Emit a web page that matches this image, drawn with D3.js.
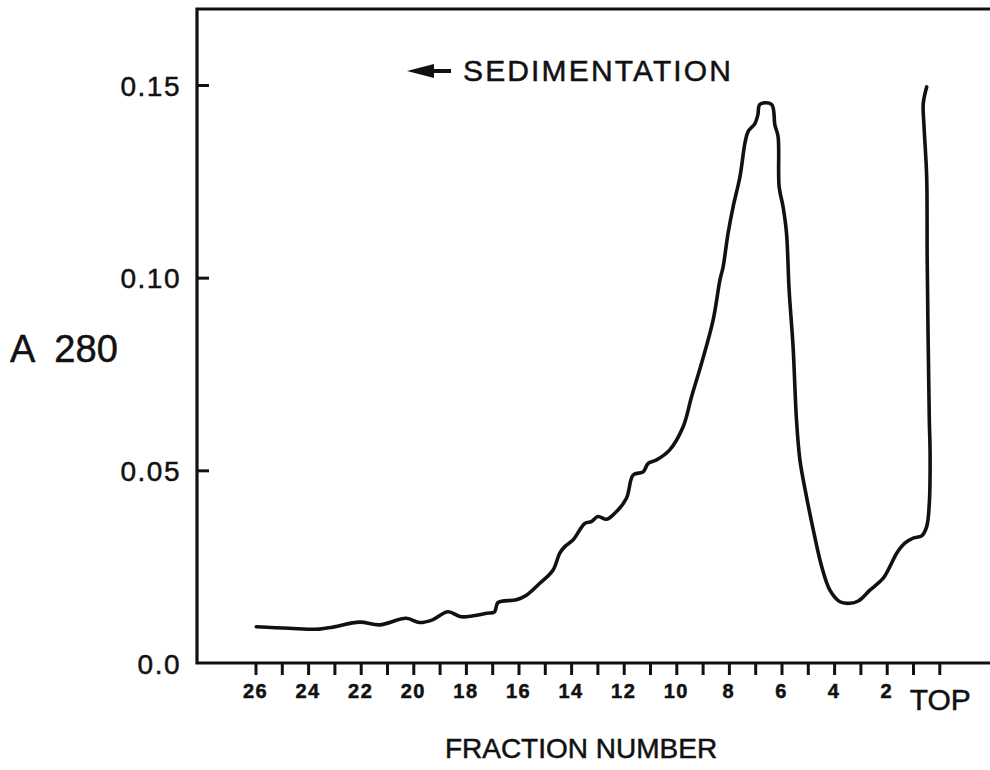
<!DOCTYPE html>
<html>
<head>
<meta charset="utf-8">
<script src="https://cdn.jsdelivr.net/npm/d3@7"></script>
<style>
  body { margin: 0; background: #fff; }
  svg { display: block; font-family: "Liberation Sans", Arial, Helvetica, sans-serif; }
  svg text { fill: #111; stroke: #111; stroke-width: 0.5px; }
  .axis path.domain { display: none; }
  .axis line { stroke: #111; stroke-width: 3; }
</style>
</head>
<body>
<div id="chart"></div>
<script>
// fraction number (x) and absorbance at 280 nm (y)
var fractions = [25.97, 24.71, 23.57, 23.07, 22.04, 21.28, 20.27, 19.76, 19.27, 18.68,
  18.17, 17.22, 16.91, 16.78, 16.08, 15.70, 15.19, 14.69, 14.43, 14.24,
  13.93, 13.48, 13.23, 12.98, 12.66, 12.41, 11.90, 11.64, 11.26, 11.07,
  10.75, 10.25, 9.74, 9.42, 9.04, 8.60, 8.34, 8.22, 8.03, 7.84,
  7.58, 7.39, 7.27, 7.01, 6.90, 6.82, 6.38, 6.25, 6.13, 6.09,
  5.94, 5.81, 5.71, 5.56, 5.43, 5.30, 5.05, 4.79, 4.47, 4.16,
  3.78, 3.40, 3.08, 2.64, 2.13, 1.88, 1.62, 1.31, 0.99, 0.67,
  0.48, 0.38, 0.35, 0.38, 0.46, 0.48, 0.58, 0.61, 0.48];
var a280 = [0.0094, 0.0090, 0.0088, 0.0093, 0.0106, 0.0099, 0.0116, 0.0105, 0.0112, 0.0133,
  0.0120, 0.0129, 0.0133, 0.0157, 0.0164, 0.0176, 0.0207, 0.0241, 0.0285, 0.0302,
  0.0319, 0.0362, 0.0367, 0.0380, 0.0373, 0.0384, 0.0427, 0.0488, 0.0496, 0.0518,
  0.0527, 0.0553, 0.0613, 0.0691, 0.0778, 0.0890, 0.0994, 0.1028, 0.1116, 0.1184,
  0.1262, 0.1349, 0.1379, 0.1400, 0.1422, 0.1450, 0.1450, 0.1396, 0.1366, 0.1236,
  0.1184, 0.1116, 0.0968, 0.0821, 0.0631, 0.0527, 0.0432, 0.0345, 0.0250, 0.0189,
  0.0159, 0.0155, 0.0161, 0.0189, 0.0220, 0.0250, 0.0285, 0.0311, 0.0324, 0.0330,
  0.0354, 0.0414, 0.0544, 0.0631, 0.1046, 0.1262, 0.1392, 0.1452, 0.1495];

var yTicks = [0, 0.05, 0.10, 0.15];
var yTickLabels = ['0.0', '0.05', '0.10', '0.15'];
var xTicks = d3.range(0, 27);
var xLabelTicks = [26, 24, 22, 20, 18, 16, 14, 12, 10, 8, 6, 4, 2];
var topLabel = 'TOP';

var width = 990, height = 770;
var plotLeft = 197, plotRight = 990, plotTop = 9, plotBottom = 663;

var svg = d3.select('#chart').append('svg')
    .attr('width', width)
    .attr('height', height);

var x = d3.scaleLinear().domain([26, 0]).range([255.5, 939.3]);
var y = d3.scaleLinear().domain([0, 0.15]).range([plotBottom, 85]);

// frame: left axis, top line, bottom axis (open on the right)
svg.append('path')
    .attr('d', 'M' + plotRight + ',' + plotTop + 'H' + plotLeft + 'V' + plotBottom + 'H' + plotRight)
    .attr('fill', 'none')
    .attr('stroke', '#111')
    .attr('stroke-width', 3.2);

// y axis, ticks pointing inward
var yAxis = d3.axisLeft(y)
    .tickValues(yTicks)
    .tickSize(-12)
    .tickPadding(16)
    .tickFormat(function(d, i) { return yTickLabels[i]; });

svg.append('g')
    .attr('class', 'axis y-axis')
    .attr('transform', 'translate(' + plotLeft + ',0)')
    .call(yAxis)
    .call(function(g) {
        g.selectAll('.tick').filter(function(d) { return d === 0; }).select('line').remove();
        g.selectAll('text')
            .style('font-size', '28px')
            .style('letter-spacing', '1.5px')
            .attr('dy', '0.36em');
    });

// x axis, ticks pointing down, labels drawn separately
var xAxis = d3.axisBottom(x)
    .tickValues(xTicks)
    .tickSize(12)
    .tickSizeOuter(0)
    .tickFormat('');

svg.append('g')
    .attr('class', 'axis x-axis')
    .attr('transform', 'translate(0,' + plotBottom + ')')
    .call(xAxis);

svg.append('g').selectAll('text')
    .data(xLabelTicks)
    .enter().append('text')
    .attr('x', function(d) { return x(d); })
    .attr('y', 698)
    .attr('text-anchor', 'middle')
    .style('font-size', '20px')
    .style('font-weight', 'bold')
    .style('letter-spacing', '1.5px')
    .text(function(d) { return d; });

svg.append('text')
    .attr('x', x(0) + 1)
    .attr('y', 710)
    .attr('text-anchor', 'middle')
    .style('font-size', '30px')
    .text(topLabel);

// axis titles
svg.append('text')
    .attr('x', 581)
    .attr('y', 758)
    .attr('text-anchor', 'middle')
    .style('font-size', '28px')
    .text('FRACTION NUMBER');

svg.append('text')
    .attr('x', 10)
    .attr('y', 362)
    .style('font-size', '38px')
    .attr('xml:space', 'preserve')
    .text('A  280');

// sedimentation arrow + label
svg.append('path')
    .attr('d', 'M407,71 L434,64 L434,69 L451,69 L451,73 L434,73 L434,78 Z')
    .attr('fill', '#111');

svg.append('text')
    .attr('x', 463)
    .attr('y', 81)
    .style('font-size', '30px')
    .attr('textLength', 268)
    .attr('lengthAdjust', 'spacing')
    .text('SEDIMENTATION');

// the absorbance trace
var points = fractions.map(function(f, i) { return [f, a280[i]]; });

var line = d3.line()
    .x(function(d) { return x(d[0]); })
    .y(function(d) { return y(d[1]); })
    .curve(d3.curveCatmullRom.alpha(0.5));

svg.append('path')
    .datum(points)
    .attr('d', line)
    .attr('fill', 'none')
    .attr('stroke', '#111')
    .attr('stroke-width', 3.6)
    .attr('stroke-linejoin', 'round')
    .attr('stroke-linecap', 'round');
</script>
</body>
</html>
